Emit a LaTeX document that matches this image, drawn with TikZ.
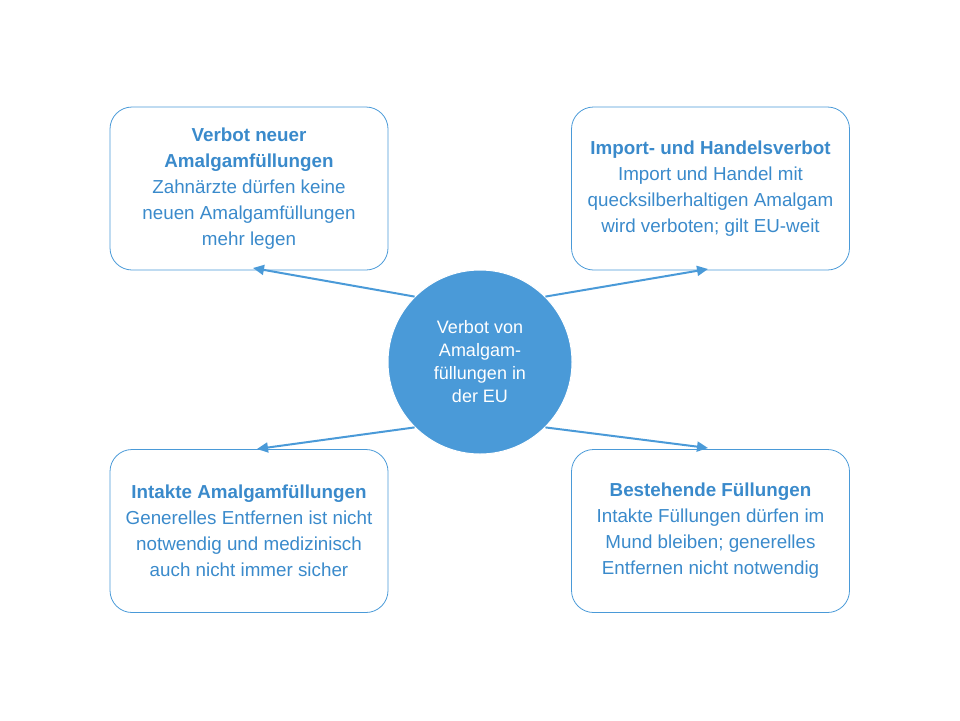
\documentclass[tikz,border=0pt]{standalone}
\usepackage{fontspec}
\setmainfont{Liberation Sans}
\usetikzlibrary{arrows.meta}
\definecolor{bl}{HTML}{4A9AD8}
\definecolor{tx}{HTML}{3A8ACB}
\begin{document}
\begin{tikzpicture}[x=1pt,y=-1pt,
 box/.style={draw=bl,line width=0.8pt,rounded corners=22pt,minimum width=278pt,minimum height=163pt,align=center,text=tx,font=\fontsize{18.8}{26}\selectfont},
 arr/.style={draw=bl,line width=2pt,-{Triangle[length=11pt,width=10pt]}}]
\useasboundingbox (0,0) rectangle (960,720);
\node[box] (a) at (249,188.5) {\textbf{Verbot neuer}\\\textbf{Amalgamfüllungen}\\Zahnärzte dürfen keine\\neuen Amalgamfüllungen\\mehr legen};
\node[box] (b) at (710.5,188.5) {\textbf{Import- und Handelsverbot}\\Import und Handel mit\\quecksilberhaltigen Amalgam\\wird verboten; gilt EU-weit};
\node[box] (c) at (249,531) {\textbf{Intakte Amalgamfüllungen}\\Generelles Entfernen ist nicht\\notwendig und medizinisch\\auch nicht immer sicher};
\node[box] (d) at (710.5,531) {\textbf{Bestehende Füllungen}\\Intakte Füllungen dürfen im\\Mund bleiben; generelles\\Entfernen nicht notwendig};
\node[circle,fill=bl,draw=white,line width=1pt,minimum size=184pt,align=center,text=white,font=\fontsize{18}{23}\selectfont] (m) at (480,362) {Verbot von\\Amalgam-\\füllungen in\\der EU};
\coordinate (ea) at (253,268); \coordinate (eb) at (708,269);
\coordinate (ec) at (257,449); \coordinate (ed) at (708,448);
\draw[arr] (m.north west) -- (ea); \draw[arr] (m.north east) -- (eb);
\draw[arr] (m.south west) -- (ec); \draw[arr] (m.south east) -- (ed);
\end{tikzpicture}
\end{document}
